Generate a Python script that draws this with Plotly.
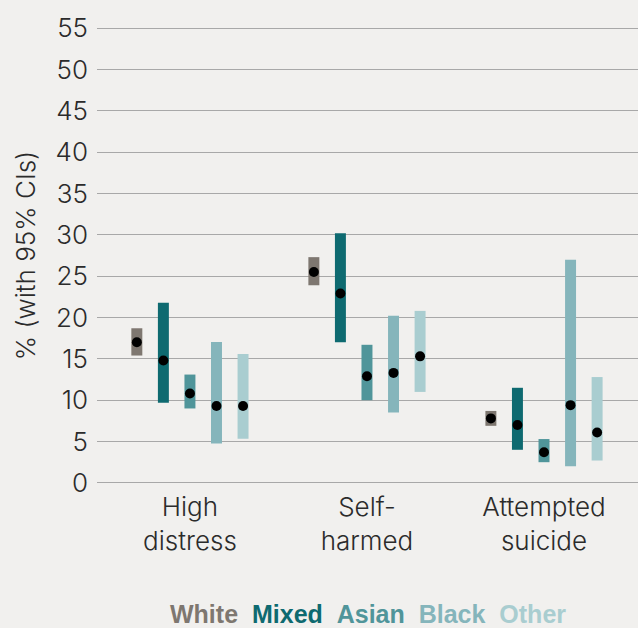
import plotly.graph_objects as go

# Outcome categories (x) and ethnic groups (one coloured bar per group)
categories = ["High<br>distress", "Self-<br>harmed", "Attempted<br>suicide"]
groups = ["White", "Mixed", "Asian", "Black", "Other"]
colors = ["#7e7770", "#0e6a70", "#50959a", "#85b5bb", "#a9cdd0"]

# Point estimates (%) per group, in category order
estimate = {
    "White": [17.0, 25.5, 7.8],
    "Mixed": [14.8, 22.9, 7.0],
    "Asian": [10.8, 12.9, 3.7],
    "Black": [9.3, 13.3, 9.4],
    "Other": [9.3, 15.3, 6.1],
}
# 95% confidence interval bounds (%)
lower = {
    "White": [15.4, 23.9, 6.9],
    "Mixed": [9.7, 17.0, 4.0],
    "Asian": [9.0, 10.0, 2.5],
    "Black": [4.75, 8.5, 2.0],
    "Other": [5.35, 11.0, 2.7],
}
upper = {
    "White": [18.7, 27.3, 8.7],
    "Mixed": [21.8, 30.2, 11.5],
    "Asian": [13.1, 16.7, 5.3],
    "Black": [17.05, 20.2, 27.0],
    "Other": [15.6, 20.8, 12.8],
}

y_ticks = list(range(0, 60, 5))

offsets = [-0.3, -0.15, 0.0, 0.15, 0.3]
bar_width = 0.062
text_color = "#2b2b2b"
font_family = "Inter, 'Open Sans', 'Liberation Sans', Arial, sans-serif"
label_size = 26

fig = go.Figure()

for g, col, off in zip(groups, colors, offsets):
    xs = [i + off for i in range(len(categories))]
    fig.add_trace(go.Bar(
        x=xs,
        y=[u - l for u, l in zip(upper[g], lower[g])],
        base=lower[g],
        width=bar_width,
        marker=dict(color=col, line=dict(width=0)),
        name=g,
        showlegend=False,
        hoverinfo="skip",
    ))

for g, off in zip(groups, offsets):
    xs = [i + off for i in range(len(categories))]
    fig.add_trace(go.Scatter(
        x=xs,
        y=estimate[g],
        mode="markers",
        marker=dict(color="black", size=10, symbol="circle"),
        showlegend=False,
        name=g,
    ))

legend_text = "&nbsp;&nbsp;".join(
    f"<span style='color:{c}'><b>{g}</b></span>" for g, c in zip(groups, colors)
)
fig.add_annotation(
    x=0.5, y=-0.275, xref="paper", yref="paper",
    xanchor="center", yanchor="middle",
    text=legend_text, showarrow=False,
    font=dict(size=25, family="'Liberation Sans', Arial, sans-serif"),
)

fig.update_layout(
    width=638, height=628,
    margin=dict(l=97, r=0, t=24, b=141),
    paper_bgcolor="#f1f0ee",
    plot_bgcolor="#f1f0ee",
    barmode="overlay",
    font=dict(family=font_family, color=text_color, size=label_size, weight=300),
    xaxis=dict(
        range=[-0.525, 2.531],
        tickmode="array",
        tickvals=list(range(len(categories))),
        ticktext=categories,
        showgrid=False, zeroline=False, showline=False,
        ticks="", ticklabelstandoff=2,
        tickfont=dict(size=label_size, color=text_color, weight=300),
    ),
    yaxis=dict(
        range=[-0.5, 55.5],
        tickmode="array",
        tickvals=y_ticks,
        showgrid=True, gridcolor="#a8a8a8", gridwidth=1.2,
        zeroline=False, showline=False,
        ticks="", ticklabelstandoff=8,
        tickfont=dict(size=label_size, color=text_color, weight=300),
        title=dict(text="% (with 95% CIs)", standoff=12,
                   font=dict(size=label_size, color=text_color, weight=300)),
    ),
)

fig.write_html("out.html")
